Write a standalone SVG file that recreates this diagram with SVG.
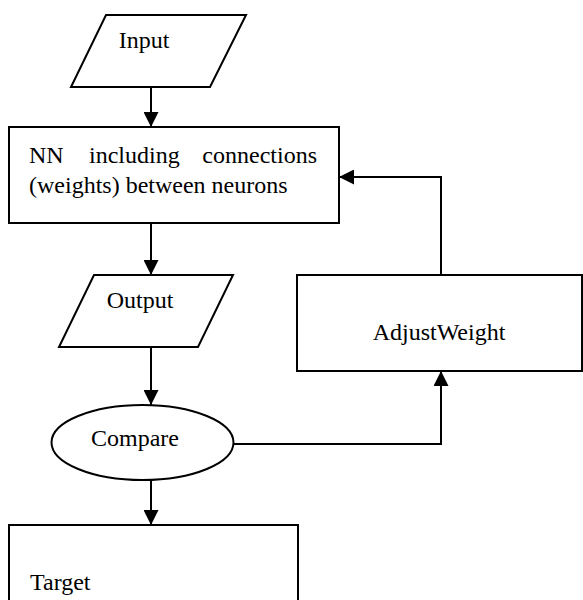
<svg xmlns="http://www.w3.org/2000/svg" width="583" height="600" viewBox="0 0 583 600">
<style>
.s{fill:#fff;stroke:#000;stroke-width:2}
.c{fill:none;stroke:#000;stroke-width:2}
.t{font-family:'Liberation Serif','Times New Roman',serif;font-size:24px;fill:#000}
</style>
<defs>
<marker id="ah" viewBox="0 0 15 15" refX="15" refY="7.5" markerWidth="15" markerHeight="15" markerUnits="userSpaceOnUse" orient="auto">
<path d="M0,0 L15,7.5 L0,15 Z" fill="#000"/>
</marker>
</defs>
<rect width="583" height="600" fill="#fff"/>
<g id="connectors">
<line class="c" x1="151" y1="87" x2="151" y2="127" marker-end="url(#ah)"/>
<line class="c" x1="151" y1="223" x2="151" y2="275" marker-end="url(#ah)"/>
<line class="c" x1="151" y1="347" x2="151" y2="405" marker-end="url(#ah)"/>
<line class="c" x1="151" y1="480" x2="151" y2="525" marker-end="url(#ah)"/>
<polyline class="c" points="233,444 441,444 441,371" marker-end="url(#ah)"/>
<polyline class="c" points="441,275 441,177 339,177" marker-end="url(#ah)"/>
</g>
<g id="input">
<polygon class="s" points="106,15 246,15 210,87 71,87"/>
<text class="t" x="144" y="48" text-anchor="middle">Input</text>
</g>
<g id="nn">
<rect class="s" x="9" y="127" width="330" height="96"/>
<text class="t" x="29" y="163">NN</text>
<text class="t" x="89" y="163">including</text>
<text class="t" x="317" y="163" text-anchor="end">connections</text>
<text class="t" x="29" y="193">(weights) between neurons</text>
</g>
<g id="output">
<polygon class="s" points="94,275 233,275 198,347 59,347"/>
<text class="t" x="140" y="308" text-anchor="middle">Output</text>
</g>
<g id="compare">
<ellipse class="s" cx="142.5" cy="442.5" rx="91" ry="37.5"/>
<text class="t" x="135" y="446" text-anchor="middle">Compare</text>
</g>
<g id="adjust">
<rect class="s" x="297" y="275" width="285" height="96"/>
<text class="t" x="439" y="340" text-anchor="middle">AdjustWeight</text>
</g>
<g id="target">
<rect class="s" x="9" y="525" width="289" height="90"/>
<text class="t" x="30" y="590">Target</text>
</g>
</svg>
